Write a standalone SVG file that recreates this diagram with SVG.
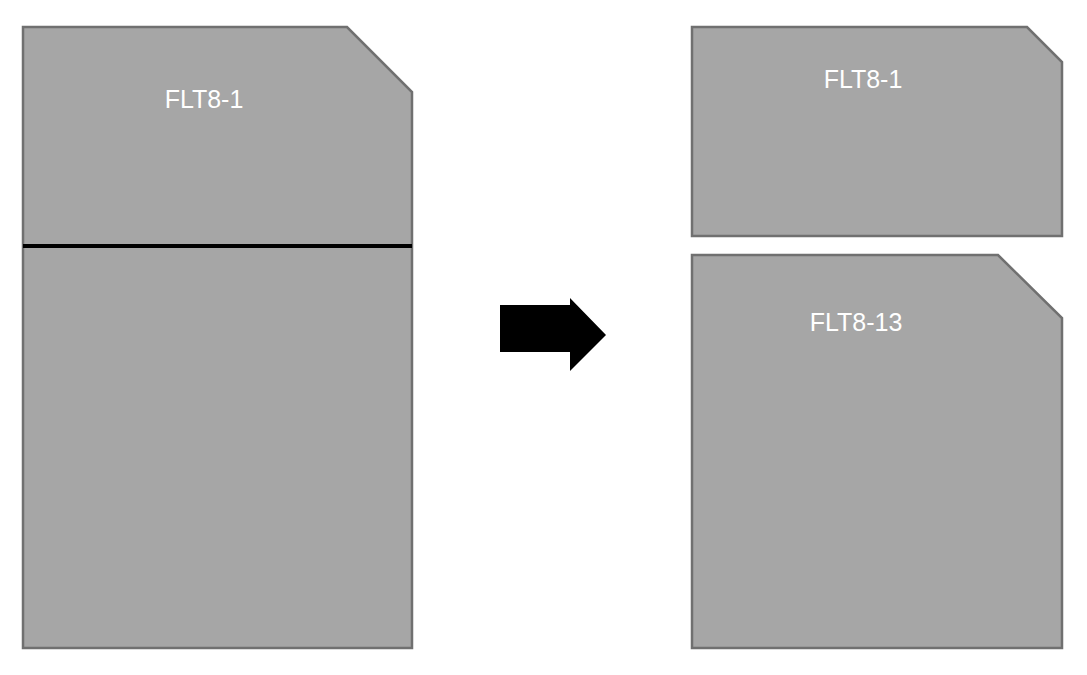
<svg xmlns="http://www.w3.org/2000/svg" width="1087" height="675" viewBox="0 0 1087 675">
<style>
.s{fill:#a6a6a6;stroke:#707070;stroke-width:2.5}
.t{font-family:"Liberation Sans",Arial,sans-serif;font-size:25px;fill:#fff;text-anchor:middle}
</style>
<rect width="1087" height="675" fill="#fff"/>
<g id="left">
<path class="s" d="M23,27 H347 L412,92 V648 H23 Z"/>
<text class="t" x="204" y="108">FLT8-1</text>
</g>
<g id="connectors">
<line x1="23" y1="246" x2="412" y2="246" stroke="#000" stroke-width="4"/>
<path d="M500,305 H570 V298 L606,335 L570,371 V352 H500 Z" fill="#000"/>
</g>
<g id="rtop">
<path class="s" d="M692,27 H1027 L1062,62 V236 H692 Z"/>
<text class="t" x="863" y="88">FLT8-1</text>
</g>
<g id="rbottom">
<path class="s" d="M692,255 H998 L1062,318 V648 H692 Z"/>
<text class="t" x="856" y="331">FLT8-13</text>
</g>
</svg>
